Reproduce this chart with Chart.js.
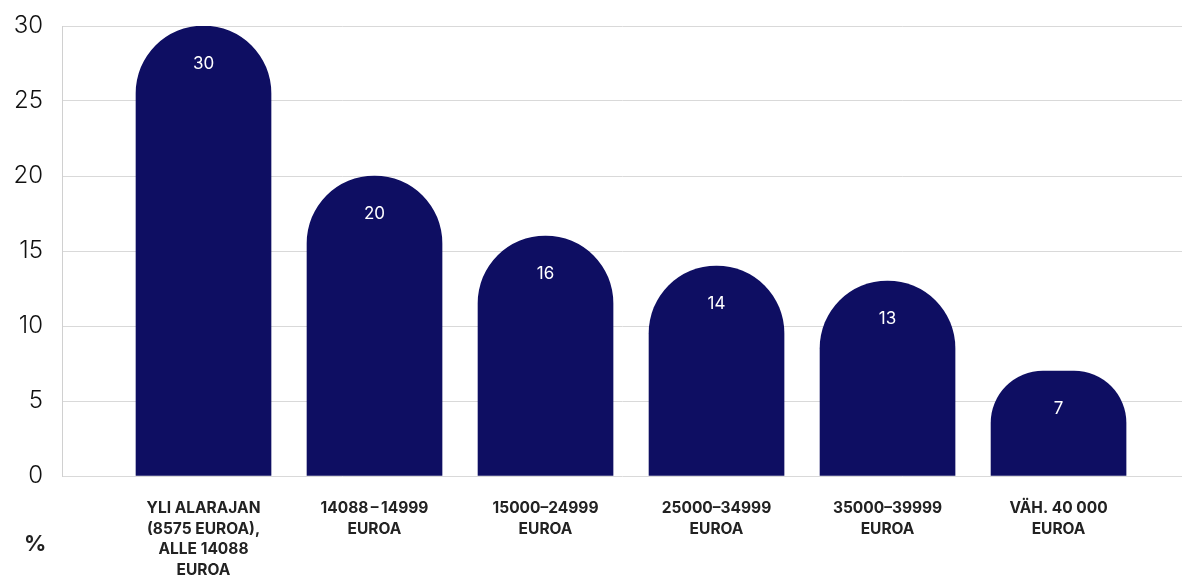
<!DOCTYPE html>
<html>
<head>
<meta charset="utf-8">
<script src="https://cdn.jsdelivr.net/npm/chart.js@4/dist/chart.umd.min.js"></script>
<style>
  html, body { margin: 0; padding: 0; background: #fff; }
  #wrap { position: relative; width: 1182px; height: 576px; }
  #pct { position: absolute; left: 24px; top: 530px; font: 700 22px Inter, sans-serif; color: #222; }
</style>
</head>
<body>
<div id="wrap">
  <canvas id="bar_chart" width="1182" height="576"></canvas>
  <div id="pct">%</div>
</div>
<script>
// kategoriat (tuloluokat)
var categories = [
    ["YLI ALARAJAN", "(8575 EUROA),", "ALLE 14088", "EUROA"],
    ["14088\u2009\u2013\u200914999", "EUROA"],
    ["15000\u201324999", "EUROA"],
    ["25000\u201334999", "EUROA"],
    ["35000\u201339999", "EUROA"],
    ["VÄH. 40 000", "EUROA"]
];
var values = [30, 20, 16, 14, 13, 7];
var yTicks = [0, 5, 10, 15, 20, 25, 30];

var barColor = '#0e0e62';

// arvot palkkien sisään
var valueLabels = {
    id: 'valueLabels',
    afterDatasetsDraw: function(chart) {
        var ctx = chart.ctx;
        var meta = chart.getDatasetMeta(0);
        ctx.save();
        ctx.fillStyle = '#ffffff';
        ctx.font = '400 17px Inter, sans-serif';
        ctx.textAlign = 'center';
        ctx.textBaseline = 'middle';
        meta.data.forEach(function(bar, i) {
            ctx.fillText(String(values[i]), bar.x, bar.y + 38);
        });
        ctx.restore();
    }
};

var ctx = document.getElementById('bar_chart').getContext('2d');
new Chart(ctx, {
    type: 'bar',
    data: {
        datasets: [{
            data: values.map(function(v, i) { return {x: i, y: v}; }),
            backgroundColor: barColor,
            borderWidth: 0,
            barThickness: 135,
            borderRadius: {topLeft: 68, topRight: 68, bottomLeft: 0, bottomRight: 0},
            borderSkipped: false
        }]
    },
    options: {
        responsive: false,
        animation: false,
        layout: { padding: { top: 26, right: 0, left: 0, bottom: 0 } },
        plugins: { legend: { display: false }, tooltip: { enabled: false } },
        scales: {
            x: {
                type: 'linear',
                offset: false,
                min: -0.8275,
                max: 5.722,
                afterBuildTicks: function(scale) {
                    scale.ticks = categories.map(function(c, i) { return {value: i}; });
                },
                afterFit: function(scale) {
                    scale.height = 100;
                    scale.paddingLeft = 0; scale.paddingRight = 0;
                },
                grid: { display: false },
                border: { display: false },
                ticks: {
                    autoSkip: false,
                    maxRotation: 0,
                    padding: 14,
                    color: '#222',
                    font: { family: 'Inter', size: 15.5, weight: '700', lineHeight: 1.33 },
                    callback: function(value) { return categories[value]; }
                }
            },
            y: {
                min: 0,
                max: 30,
                afterBuildTicks: function(scale) {
                    scale.ticks = yTicks.map(function(t) { return {value: t}; });
                },
                afterFit: function(scale) {
                    scale.width = 62;
                    scale.paddingTop = 0; scale.paddingBottom = 0;
                },
                grid: { color: '#d9d9d9', lineWidth: 1, drawTicks: false },
                border: { display: true, color: '#d0d0d0' },
                ticks: {
                    padding: 19,
                    color: '#111',
                    font: { family: 'Inter', size: 24, weight: '300' }
                }
            }
        }
    },
    plugins: [valueLabels]
});
</script>
</body>
</html>
